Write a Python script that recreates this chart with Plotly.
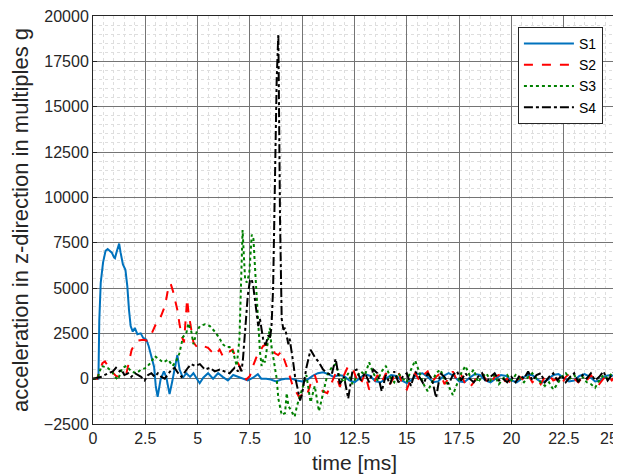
import numpy as np
import plotly.graph_objects as go

# --- data (time in ms, acceleration in g) ---
# early part of each signal, hand-sampled where the shape changes
s1_t = [0.0, 0.2, 0.26, 0.3, 0.37, 0.48, 0.6, 0.7, 0.8, 0.9, 1.0, 1.05, 1.12, 1.2, 1.25, 1.32, 1.43,
        1.55, 1.64, 1.72, 1.8, 1.9, 2.0, 2.12, 2.28, 2.4, 2.55, 2.66, 2.8, 2.92, 3.0, 3.09, 3.23, 3.39,
        3.5, 3.66, 3.78, 3.9, 4.03, 4.14, 4.3, 4.46, 4.64, 4.8, 5.1, 5.27, 5.5, 5.74, 5.98, 6.2, 6.45,
        6.7, 6.93, 7.17, 7.4, 7.65, 7.88, 8.04, 8.28, 8.5, 8.75, 9.0, 9.2, 9.5, 9.75]
s1_v = [0, 0, 0, 3200, 5300, 6400, 7050, 7150, 7050, 6950, 6700, 6650, 6950, 7300, 7450, 6950, 6300,
        6000, 5100, 3800, 2900, 2600, 2800, 2450, 2500, 2250, 2150, 1800, 1200, 650, -400, -1000, -50, 400,
        100, -850, -200, 500, 1300, 500, 50, 300, 100, 300, -250, 50, 300, 0, 300, 100, -100,
        200, 100, 0, -100, 50, 250, 0, 0, -50, -150, -50, 0, 0, -100]
# tail, every 0.25 ms from 10 to 25 ms
s1_tail = [-150, -50, 150, 300, 350, 250, 100, 200, 150, -100, -200, 50, 250, 150, -150, -200,
           0, 200, 150, -100, -250, -50, 250, 300, 100, -200, -150, 150, 300, 150, -150, -200,
           50, 250, 200, -100, -200, 0, 200, 150, -100, -200, 0, 200, 200, -50, -200, -50,
           200, 250, 50, -150, -100, 150, 250, 100, -150, -100, 150, 200, 100]

s2_t = [0.0, 0.2, 0.3, 0.45, 0.57, 0.7, 0.88, 1.1, 1.36, 1.6, 1.75, 1.85, 2.0, 2.17, 2.4, 2.57, 2.81,
        3.04, 3.2, 3.44, 3.6, 3.71, 3.83, 3.92, 4.03, 4.13, 4.24, 4.35, 4.45, 4.5, 4.57, 4.65, 4.8,
        5.0, 5.27, 5.5, 5.66, 5.82, 6.05, 6.2, 6.37, 6.53, 6.68, 6.85, 7.0, 7.17, 7.33, 7.5, 7.65,
        7.8, 7.98, 8.13, 8.3, 8.45, 8.7, 8.85, 9.0, 9.1, 9.25, 9.4, 9.55, 9.7, 9.85]
s2_v = [0, 0, 400, 850, 950, 700, 400, 150, 50, 300, 1100, 1600, 1900, 2100, 2150, 2100, 2500,
        3100, 3300, 4000, 5000, 5250, 4800, 4400, 3800, 3050, 2350, 2000, 3600, 4400, 3600, 3000, 2000,
        1700, 1800, 1700, 1500, 1300, 1600, 1250, 1500, 1500, 1600, 1050, 700, 150, -50, 150, 700,
        1150, 1500, 1800, 1900, 1800, 1400, 1300, 1500, 1200, 700, 150, -400, -700, -1000]
# tail, every 0.2 ms from 10 to 25 ms
s2_tail = [-900, -1000, -300, 200, -500, -700, -800, -200, 300, -450, 200, 700, 600, 0, -300, 300,
           -600, -300, 200, -200, 300, -300, 100, 400, -400, -600, 0, 300, -100, 200, 400, -200,
           100, 300, -300, 0, 400, -100, 200, -300, -500, -200, 200, 300, -100, -300, 100, 200,
           -200, 0, -300, -200, 100, -100, 200, -200, 0, -300, 100, 200, -100, 0, -300, 100,
           300, 0, -200, 100, -100, 200, -100, -300, 0, 200, -100, 200]

s3_t = [0.0, 0.2, 0.3, 0.4, 0.55, 0.7, 0.9, 1.05, 1.2, 1.4, 1.6, 1.83, 2.07, 2.3, 2.55, 2.77, 2.95,
        3.2, 3.35, 3.6, 3.8, 3.97, 4.13, 4.3, 4.46, 4.56, 4.7, 4.8, 4.96, 5.11, 5.35, 5.59, 5.82,
        6.06, 6.2, 6.37, 6.53, 6.69, 6.87, 7.0, 7.1, 7.15, 7.22, 7.27, 7.35, 7.47, 7.59, 7.67, 7.75,
        7.83, 7.9, 7.98, 8.06, 8.14, 8.22, 8.3, 8.38, 8.45, 8.53, 8.7, 8.78, 8.86, 9.02, 9.18, 9.26,
        9.34, 9.5, 9.64, 9.75, 9.88]
s3_v = [0, 0, 300, 700, 650, 600, 400, 100, -50, 600, 700, 400, 300, 500, 600, 900, 1250,
        1050, 900, 1050, 700, 950, 1400, 2300, 2500, 3050, 2600, 1900, 2600, 2900, 3000, 2900, 2600,
        2200, 1900, 1750, 1750, 1500, 700, 2200, 6000, 8200, 6600, 5500, 5300, 5800, 7950, 7700, 6000,
        4200, 2800, 1500, 700, 1100, 900, 1500, 2200, 2800, 1800, 700, 0, -1100, -2000, -1900, -800,
        -1500, -1800, -2100, -1500, -1000]
s3_tail = [-600, 200, -1300, -400, -1800, -700, 200, 600, 800, 100, -200, 300, -300, 100, 400, 200,
           900, 300, -100, 400, 700, 100, -200, 300, 0, -200, 500, 1000, 400, -300, -700, -200,
           300, 500, 0, -400, -900, -300, 300, 700, 200, 500, -200, 100, 300, -100, 200, -300,
           0, 200, -100, 200, 0, -200, 100, 300, 0, -200, -400, -200, -600, -300, 100, 300,
           0, 200, -100, 100, -200, -300, -500, -100, 200, 0, 300, 500]

s4_t = [0.0, 0.4, 0.72, 0.95, 1.1, 1.27, 1.36, 1.5, 1.68, 1.83, 2.0, 2.15, 2.3, 2.47, 2.63, 2.79,
        2.95, 3.1, 3.27, 3.43, 3.6, 3.75, 3.9, 4.07, 4.23, 4.4, 4.54, 4.7, 4.88, 5.11, 5.35, 5.59,
        5.82, 6.06, 6.3, 6.53, 6.77, 6.93, 7.0, 7.1, 7.17, 7.25, 7.33, 7.4, 7.5, 7.58, 7.66, 7.74,
        7.82, 7.9, 7.98, 8.06, 8.13, 8.25, 8.38, 8.45, 8.53, 8.61, 8.7, 8.78, 8.86, 8.94, 9.02, 9.1,
        9.18, 9.26, 9.34, 9.4, 9.5, 9.57, 9.66, 9.75, 9.9]
s4_v = [0, 100, 300, 400, 600, 400, 500, 200, 300, 100, 300, 200, 100, -100, 200, 300,
        100, 300, 100, 0, 300, 500, 600, 300, 100, 400, 600, 800, 700, 800, 500, 600,
        400, 500, 400, 300, 600, 400, 700, 400, 1100, 2200, 3300, 4600, 5400, 5500, 5100, 4400,
        3500, 2900, 3300, 2800, 2200, 1850, 2400, 2200, 2800, 5000, 11000, 16500, 19000, 8800, 3300, 2700,
        2800, 2400, 1900, 2200, 1500, 900, 100, -400, -1200]
s4_tail = [-800, 600, 1600, 1200, 900, 500, 300, 200, 1100, -300, 100, -1100, 400, 500, -100, 300,
           -200, 500, 300, -700, 200, -300, 400, -200, 100, 300, -400, 400, 100, -300, 300, 0,
           -1050, 300, 100, -300, 200, 400, -100, 300, 0, -200, 100, 300, -200, 100, 300, -100,
           0, -200, 100, -200, 200, 0, 400, -100, 200, 300, -200, 100, 300, -100, 200, -200,
           100, 300, -200, 200, 0, 300, -100, 100, 400, -100, 200, 500]

names = ['S1', 'S2', 'S3', 'S4']
colors = ['#0072BD', '#FF0000', '#008000', '#000000']
dashes = ['solid', 'dash', 'dot', 'dashdot']

x_tickvals = [0, 2.5, 5, 7.5, 10, 12.5, 15, 17.5, 20, 22.5, 25]
x_ticktext = ['0', '2.5', '5', '7.5', '10', '12.5', '15', '17.5', '20', '22.5', '']
x_last_label = '25'  # drawn separately, right-aligned, so it is not clipped by the window

tail_025 = np.round(np.arange(10.0, 25.001, 0.25), 3)
tail_02 = np.round(np.arange(10.0, 25.001, 0.2), 3)

series = [
    (list(s1_t) + list(tail_025), s1_v + s1_tail),
    (list(s2_t) + list(tail_02), s2_v + s2_tail),
    (list(s3_t) + list(tail_02), s3_v + s3_tail),
    (list(s4_t) + list(tail_02), s4_v + s4_tail),
]

fig = go.Figure()
for (t, v), name, color, dash in zip(series, names, colors, dashes):
    fig.add_trace(go.Scatter(
        x=t, y=v, name=name, mode='lines',
        line=dict(color=color, width=2, dash=dash),
    ))

font_family = 'Liberation Sans, Arial, sans-serif'
axis_common = dict(
    showline=True, linecolor='#262626', linewidth=1, mirror=True,
    ticks='inside', ticklen=4, tickcolor='#262626',
    tickfont=dict(family=font_family, size=16, color='#262626'),
    showgrid=True, gridcolor='#747474', gridwidth=1,
    zeroline=False, automargin=False, ticklabeloverflow='allow',
)

fig.add_annotation(
    x=x_tickvals[-1], xref='x', y=0, yref='paper',
    text=x_last_label, showarrow=False,
    xanchor='right', yanchor='top', xshift=4, yshift=-4,
    font=dict(family=font_family, size=16, color='#262626'),
)

# the page body adds an 8 px offset, so margins are shifted accordingly
fig.update_layout(
    width=621, height=476,
    margin=dict(l=85, r=13, t=8, b=60),
    paper_bgcolor='white', plot_bgcolor='white',
    font=dict(family=font_family, color='#262626'),
    showlegend=True,
    legend=dict(
        x=0.975, y=0.973, xanchor='right', yanchor='top',
        bgcolor='white', bordercolor='#262626', borderwidth=1,
        font=dict(family=font_family, size=14, color='#000000'),
        tracegroupgap=0, itemwidth=50,
    ),
    xaxis=dict(
        range=[0, 25], tickmode='array', tickvals=x_tickvals, ticktext=x_ticktext,
        title=dict(text='time [ms]', font=dict(size=21, family=font_family), standoff=9),
        minor=dict(dtick=0.5, tick0=0, showgrid=True, gridcolor='#dedede', griddash='dot', gridwidth=1),
        **axis_common,
    ),
    yaxis=dict(
        range=[-2500, 20000], tickmode='linear', tick0=-2500, dtick=2500,
        tickformat='d', exponentformat='none',
        title=dict(text='acceleration in z-direction in multiples g',
                   font=dict(size=22, family=font_family), standoff=10),
        minor=dict(dtick=500, showgrid=True, gridcolor='#dedede', griddash='dot', gridwidth=1),
        **axis_common,
    ),
)

fig.write_html("out.html")
